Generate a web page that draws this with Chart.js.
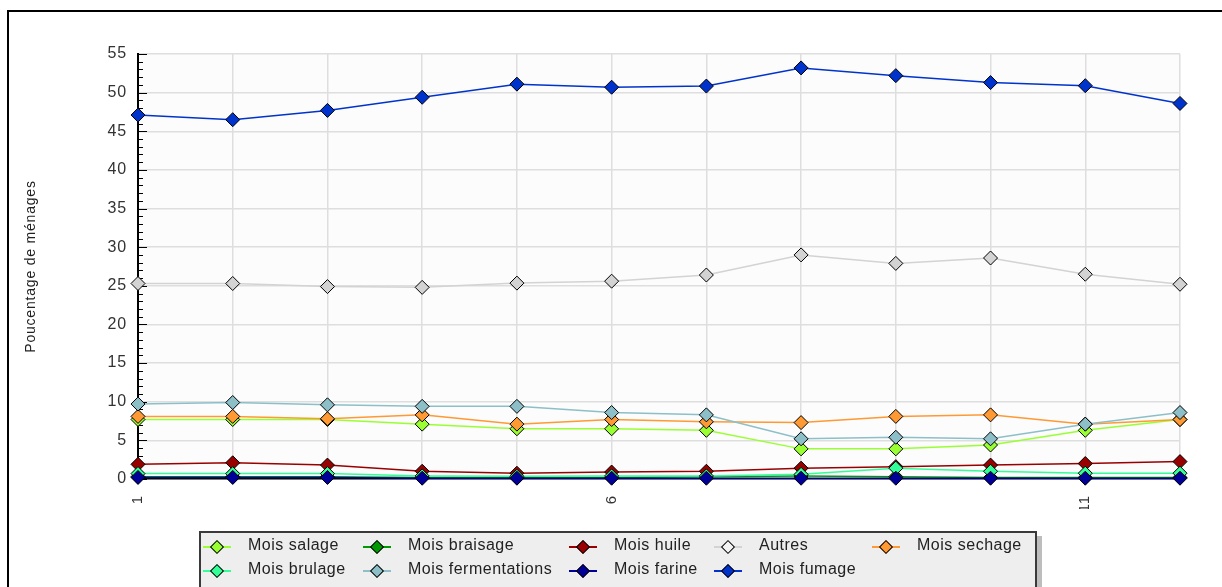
<!DOCTYPE html>
<html>
<head>
<meta charset="utf-8">
<script src="https://cdn.jsdelivr.net/npm/chart.js@4.4.0/dist/chart.umd.min.js"></script>
<style>
  body { margin: 0; background: #fff; font-family: "Liberation Sans", Arial, sans-serif; }
  #wrap { position: relative; width: 1222px; height: 587px; overflow: hidden; }
  #frame { position: absolute; left: 7px; top: 10px; width: 1240px; height: 620px;
           border-left: 2px solid #000; border-top: 2px solid #000; }
  #chart { position: absolute; left: 0; top: 0; }
  #legend { position: absolute; left: 199px; top: 531px; width: 834px; height: 80px;
            background: #eeeeee; border: 2px solid #3a3a3a; box-shadow: 5px 5px 0 #bdbdbd; }
  .item { position: absolute; height: 22px; }
  .item .ln { position: absolute; left: 0; top: 10px; width: 28px; height: 2px; }
  .item .dm { position: absolute; left: 9px; top: 6px; width: 8px; height: 8px;
              border: 1px solid #000; transform: rotate(45deg); }
  .item .tx { position: absolute; left: 45px; top: 0px; white-space: nowrap;
              font-size: 16px; letter-spacing: 0.5px; color: #222; }
</style>
</head>
<body>
<div id="wrap">
  <div id="frame"></div>
  <canvas id="chart" width="1222" height="587"></canvas>
  <div id="legend"></div>
</div>
<script>
// data
var months = ['1', '2', '3', '4', '5', '6', '7', '8', '9', '10', '11', '12'];
var shownMonths = ['1', '6', '11'];

var salage = [7.7, 7.7, 7.7, 7.1, 6.5, 6.5, 6.3, 3.9, 3.9, 4.4, 6.3, 7.7];
var brulage = [0.7, 0.7, 0.7, 0.4, 0.35, 0.4, 0.4, 0.6, 1.4, 1.0, 0.75, 0.75];
var braisage = [0.3, 0.3, 0.3, 0.2, 0.2, 0.2, 0.3, 0.4, 0.3, 0.2, 0.2, 0.2];
var fermentations = [9.7, 9.9, 9.6, 9.4, 9.4, 8.6, 8.3, 5.2, 5.4, 5.2, 7.1, 8.6];
var huile = [1.9, 2.1, 1.8, 1.0, 0.75, 0.9, 1.0, 1.4, 1.6, 1.8, 2.0, 2.25];
var farine = [0.2, 0.2, 0.2, 0.1, 0.1, 0.1, 0.1, 0.1, 0.1, 0.1, 0.1, 0.1];
var autres = [25.3, 25.3, 24.9, 24.8, 25.35, 25.6, 26.4, 29.0, 27.9, 28.6, 26.5, 25.2];
var fumage = [47.1, 46.5, 47.7, 49.4, 51.1, 50.7, 50.85, 53.2, 52.2, 51.3, 50.9, 48.6];
var sechage = [8.1, 8.1, 7.8, 8.3, 7.1, 7.7, 7.4, 7.3, 8.1, 8.3, 7.1, 7.7];

// series: name, values, colour  (first one is drawn on top)
var series = [
  { name: 'Mois farine', data: farine, color: '#000099' },
  { name: 'Mois fermentations', data: fermentations, color: '#8dbfc8' },
  { name: 'Mois sechage', data: sechage, color: '#ff9933' },
  { name: 'Mois salage', data: salage, color: '#99ff33' },
  { name: 'Mois brulage', data: brulage, color: '#33ff99' },
  { name: 'Mois braisage', data: braisage, color: '#009900' },
  { name: 'Mois huile', data: huile, color: '#990000' },
  { name: 'Autres', data: autres, color: '#d3d3d3' },
  { name: 'Mois fumage', data: fumage, color: '#0033cc' }
];

// legend grid, row by row
var legendRows = [
  ['Mois salage', 'Mois braisage', 'Mois huile', 'Autres', 'Mois sechage'],
  ['Mois brulage', 'Mois fermentations', 'Mois farine', 'Mois fumage']
];
var legendCols = [2, 162, 368, 513, 671];
var legendTops = [3, 27];

var datasets = series.map(function(s) {
  return {
    label: s.name,
    data: s.data,
    borderColor: s.color,
    backgroundColor: s.color,
    borderWidth: 1.5,
    pointStyle: 'rectRot',
    pointRadius: 7,
    pointBackgroundColor: s.color,
    pointBorderColor: '#000',
    pointBorderWidth: 1,
    tension: 0,
    clip: false
  };
});

// light plot background + small tick marks inside the y axis
var plotExtras = {
  id: 'plotExtras',
  beforeDraw: function(chart) {
    var a = chart.chartArea, ctx = chart.ctx;
    ctx.letterSpacing = '0.8px';
    ctx.save();
    ctx.fillStyle = '#fcfcfc';
    ctx.fillRect(a.left, a.top, a.right - a.left, a.bottom - a.top);
    ctx.restore();
  },
  beforeDatasetsDraw: function(chart) {
    var y = chart.scales.y, ctx = chart.ctx, left = chart.chartArea.left;
    ctx.save();
    ctx.strokeStyle = '#000';
    ctx.lineWidth = 1;
    for (var v = 0; v <= 55; v++) {
      var py = Math.round(y.getPixelForValue(v)) + 0.5;
      ctx.beginPath();
      ctx.moveTo(left, py);
      ctx.lineTo(left + (v % 5 === 0 ? 9 : 5), py);
      ctx.stroke();
    }
    ctx.restore();
  }
};

var ctx = document.getElementById('chart').getContext('2d');
var chart = new Chart(ctx, {
  type: 'line',
  data: { labels: months, datasets: datasets },
  plugins: [plotExtras],
  options: {
    responsive: false,
    animation: false,
    layout: { padding: { left: 0, top: 54, right: 42, bottom: 78 } },
    plugins: { legend: { display: false }, tooltip: { enabled: false } },
    scales: {
      x: {
        afterFit: function(s) { s.height = 30; },
        grid: { color: '#dedede', lineWidth: 1.5, drawTicks: false },
        border: { color: '#000', width: 1.5 },
        ticks: {
          autoSkip: false,
          minRotation: 90,
          maxRotation: 90,
          padding: 16,
          color: '#333',
          font: { family: 'Liberation Sans', size: 15 },
          callback: function(val, i) {
            return shownMonths.indexOf(months[i]) >= 0 ? months[i] : '';
          }
        }
      },
      y: {
        min: 0,
        max: 55,
        afterFit: function(s) { s.width = 138; },
        grid: { color: '#dedede', lineWidth: 1.5, drawTicks: false },
        border: { color: '#000', width: 2 },
        ticks: {
          stepSize: 5,
          padding: 11,
          color: '#333',
          font: { family: 'Liberation Sans', size: 16 }
        },
        title: {
          display: true,
          text: 'Poucentage de ménages',
          color: '#222',
          font: { family: 'Liberation Sans', size: 14 },
          padding: { top: 23, bottom: 0 }
        }
      }
    }
  }
});

// legend built from the series list
var legend = document.getElementById('legend');
legendRows.forEach(function(row, r) {
  row.forEach(function(name, c) {
    var s = series.filter(function(t) { return t.name === name; })[0];
    var item = document.createElement('div');
    item.className = 'item';
    item.style.left = legendCols[c] + 'px';
    item.style.top = legendTops[r] + 'px';
    item.innerHTML = '<div class="ln" style="background:' + s.color + '"></div>' +
      '<div class="dm" style="background:' + (name === 'Autres' ? '#f4f4f4' : s.color) + '"></div>' +
      '<div class="tx">' + name + '</div>';
    legend.appendChild(item);
  });
});
</script>
</body>
</html>
